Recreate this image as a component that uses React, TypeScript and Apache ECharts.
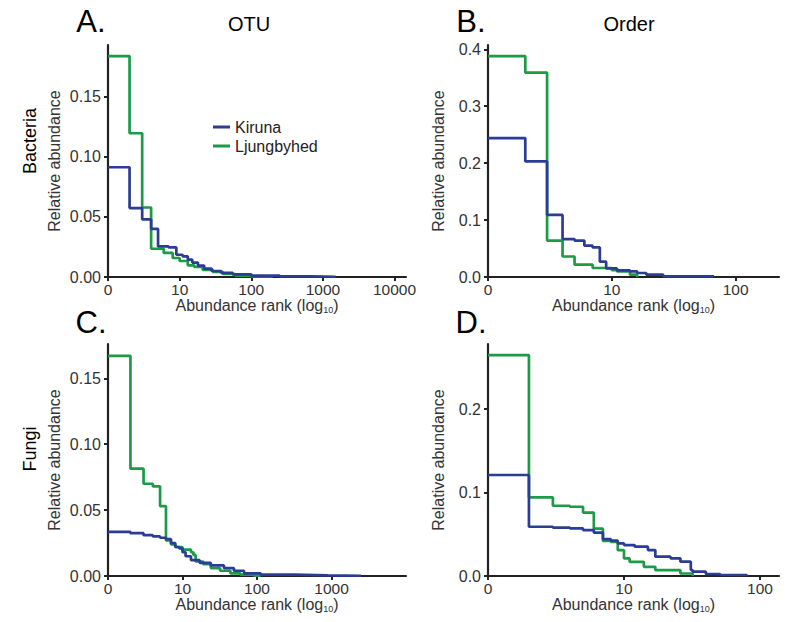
import React, { useEffect, useRef } from 'react';
import * as echarts from 'echarts';

const FONT = '"Liberation Sans", Arial, Helvetica, sans-serif';
const BLUE = '#2b3c94';
const GREEN = '#1c9a47';
const AXIS = '#222222';
const LABEL = '#333333';

const seriesNames = ['Kiruna', 'Ljungbyhed'];

// A. OTU, Bacteria  (rank: value holds from this rank until next listed rank)
const otuBacKirunaRank = [1, 2, 3, 4, 5, 7, 9, 11, 13, 15, 18, 22, 28, 38, 55, 100, 250, 700, 1500];
const otuBacKirunaValue = [0.0913, 0.0573, 0.048, 0.040, 0.0254, 0.0246, 0.0185, 0.0172, 0.0145, 0.012, 0.0095, 0.007, 0.005, 0.0035, 0.0022, 0.0012, 0.0006, 0.0002, 0];
const otuBacLjungRank = [1, 2, 3, 4, 6, 8, 10, 13, 16, 21, 29, 40, 60, 100, 200];
const otuBacLjungValue = [0.1838, 0.1196, 0.0578, 0.0235, 0.020, 0.0158, 0.0133, 0.0097, 0.0083, 0.006, 0.0043, 0.0025, 0.0012, 0.0005, 0];

// B. Order, Bacteria
const ordBacKirunaRank = [1, 2, 3, 4, 5, 6, 7, 8, 9, 11, 14, 16, 19, 26, 67];
const ordBacKirunaValue = [0.244, 0.203, 0.109, 0.0667, 0.064, 0.055, 0.052, 0.027, 0.015, 0.0117, 0.0099, 0.007, 0.004, 0.0012, 0];
const ordBacLjungRank = [1, 2, 3, 4, 5, 7, 10, 11, 14, 16];
const ordBacLjungValue = [0.388, 0.359, 0.064, 0.036, 0.0216, 0.0158, 0.012, 0.0099, 0.004, 0];

// C. OTU, Fungi
const otuFunKirunaRank = [1, 2, 3, 4, 5, 6, 7, 8, 9, 10, 11, 13, 17, 24, 36, 49, 67, 112, 316, 890, 2500];
const otuFunKirunaValue = [0.0335, 0.0325, 0.031, 0.030, 0.029, 0.028, 0.025, 0.022, 0.021, 0.018, 0.015, 0.012, 0.010, 0.008, 0.006, 0.004, 0.002, 0.001, 0.0005, 0.0002, 0];
const otuFunLjungRank = [1, 2, 3, 4, 5, 6, 7, 8, 10, 13, 14, 15, 19, 24, 32, 44, 60, 91, 112];
const otuFunLjungValue = [0.167, 0.0814, 0.070, 0.068, 0.053, 0.027, 0.024, 0.022, 0.020, 0.018, 0.016, 0.011, 0.009, 0.006, 0.004, 0.002, 0.001, 0.0003, 0];

// D. Order, Fungi
const ordFunKirunaRank = [1, 2, 3, 4, 5, 6, 7, 8, 9, 10, 12, 15, 17, 22, 26, 31, 32, 40, 51, 80];
const ordFunKirunaValue = [0.121, 0.059, 0.058, 0.057, 0.055, 0.052, 0.0443, 0.0423, 0.0391, 0.0371, 0.0351, 0.0311, 0.0232, 0.0212, 0.0172, 0.0072, 0.0052, 0.0024, 0.0012, 0];
const ordFunLjungRank = [1, 2, 3, 4, 5, 6, 7, 8, 9, 10, 11, 14, 17, 26, 32];
const ordFunLjungValue = [0.2647, 0.0942, 0.0842, 0.083, 0.076, 0.0567, 0.042, 0.041, 0.031, 0.021, 0.017, 0.011, 0.007, 0.003, 0];

// Axis ticks
const otuRankTicks = [1, 10, 100, 1000, 10000];
const otuFunRankTicks = [1, 10, 100, 1000];
const ordRankTicks = [1, 10, 100];
const yTicksOtuBac = [0, 0.05, 0.1, 0.15];
const yTicksOrdBac = [0, 0.1, 0.2, 0.3, 0.4];
const yTicksOtuFun = [0, 0.05, 0.1, 0.15];
const yTicksOrdFun = [0, 0.1, 0.2];

const panelLetters = ['A.', 'B.', 'C.', 'D.'];
const columnTitles = ['OTU', 'Order'];
const rowTitles = ['Bacteria', 'Fungi'];

const toData = (ranks: number[], values: number[]) =>
  ranks.map((r, i) => [Math.log10(r), values[i]]);

const panels = [
  { grid: { left: 108, top: 45, width: 298, height: 232 }, xMax: 4.16, yMax: 0.193, xTicks: otuRankTicks, yTicks: yTicksOtuBac, yDec: 2, nameGap: 46,
    kir: toData(otuBacKirunaRank, otuBacKirunaValue), lju: toData(otuBacLjungRank, otuBacLjungValue) },
  { grid: { left: 488, top: 45, width: 291, height: 232 }, xMax: 2.35, yMax: 0.4075, xTicks: ordRankTicks, yTicks: yTicksOrdBac, yDec: 1, nameGap: 42,
    kir: toData(ordBacKirunaRank, ordBacKirunaValue), lju: toData(ordBacLjungRank, ordBacLjungValue) },
  { grid: { left: 108, top: 344, width: 298, height: 232 }, xMax: 4.0, yMax: 0.176, xTicks: otuFunRankTicks, yTicks: yTicksOtuFun, yDec: 2, nameGap: 46,
    kir: toData(otuFunKirunaRank, otuFunKirunaValue), lju: toData(otuFunLjungRank, otuFunLjungValue) },
  { grid: { left: 488, top: 344, width: 291, height: 232 }, xMax: 2.14, yMax: 0.278, xTicks: ordRankTicks, yTicks: yTicksOrdFun, yDec: 1, nameGap: 42,
    kir: toData(ordFunKirunaRank, ordFunKirunaValue), lju: toData(ordFunLjungRank, ordFunLjungValue) },
];

export default function App() {
  const ref = useRef<HTMLDivElement>(null);
  useEffect(() => {
    if (!ref.current) return;
    const chart = echarts.init(ref.current, null, { renderer: 'svg' });
    const grids = panels.map((p) => ({ ...p.grid, containLabel: false, outerBoundsMode: 'none' }));
    const xAxes = panels.map((p, i) => ({
      type: 'value',
      gridIndex: i,
      min: 0,
      max: p.xMax,
      name: '{a|Abundance rank (log}{s|10}{a|)}',
      nameLocation: 'middle',
      nameGap: 17,
      nameTextStyle: {
        rich: {
          a: { fontSize: 16, color: LABEL, fontFamily: FONT, lineHeight: 18 },
          s: { fontSize: 9, color: LABEL, fontFamily: FONT, lineHeight: 7, verticalAlign: 'bottom' },
        },
      },
      axisLine: { show: true, onZero: false, lineStyle: { color: AXIS, width: 2.2 } },
      axisTick: { show: true, length: 4, lineStyle: { color: AXIS, width: 2 }, customValues: p.xTicks.map((r) => Math.log10(r)) },
      axisLabel: {
        show: true,
        margin: 4,
        fontSize: 15.5,
        color: LABEL,
        fontFamily: FONT,
        customValues: p.xTicks.map((r) => Math.log10(r)),
        formatter: (v: number) => {
          const r = Math.round(Math.pow(10, v));
          return r === 1 ? '0' : String(r);
        },
      },
      splitLine: { show: false },
    }));
    const yAxes = panels.map((p, i) => ({
      type: 'value',
      gridIndex: i,
      min: 0,
      max: p.yMax,
      name: 'Relative abundance',
      nameLocation: 'middle',
      nameGap: p.nameGap,
      nameTextStyle: { fontSize: 16, color: LABEL, fontFamily: FONT },
      axisLine: { show: true, lineStyle: { color: AXIS, width: 2.2 } },
      axisTick: { show: true, length: 4, lineStyle: { color: AXIS, width: 2 }, customValues: p.yTicks },
      axisLabel: {
        show: true,
        margin: 7,
        fontSize: 16,
        color: LABEL,
        fontFamily: FONT,
        customValues: p.yTicks,
        formatter: (v: number) => v.toFixed(p.yDec),
      },
      splitLine: { show: false },
    }));
    const series: any[] = [];
    panels.forEach((p, i) => {
      series.push({
        name: seriesNames[1], type: 'line', step: 'end', xAxisIndex: i, yAxisIndex: i,
        data: p.lju, showSymbol: false, symbol: 'none', color: GREEN,
        lineStyle: { color: GREEN, width: 2.7 },
      });
      series.push({
        name: seriesNames[0], type: 'line', step: 'end', xAxisIndex: i, yAxisIndex: i,
        data: p.kir, showSymbol: false, symbol: 'none', color: BLUE,
        lineStyle: { color: BLUE, width: 2.7 },
      });
    });
    const letterPos = [[91, 21], [471, 21], [91, 322], [471, 322]];
    const graphics: any[] = [];
    panelLetters.forEach((t, i) => {
      graphics.push({ type: 'text', x: letterPos[i][0], y: letterPos[i][1],
        style: { text: t, fontSize: 31, fontFamily: FONT, fill: '#000', textAlign: 'center', textVerticalAlign: 'middle' } });
    });
    const colPos = [249, 629];
    columnTitles.forEach((t, i) => {
      graphics.push({ type: 'text', x: colPos[i], y: 24,
        style: { text: t, fontSize: 20, fontFamily: FONT, fill: '#000', textAlign: 'center', textVerticalAlign: 'middle' } });
    });
    const rowPos = [141, 449];
    rowTitles.forEach((t, i) => {
      graphics.push({ type: 'text', x: 30, y: rowPos[i], rotation: Math.PI / 2,
        style: { text: t, fontSize: 18, fontFamily: FONT, fill: '#000', textAlign: 'center', textVerticalAlign: 'middle' } });
    });
    chart.setOption({
      animation: false,
      backgroundColor: '#fff',
      grid: grids,
      xAxis: xAxes,
      yAxis: yAxes,
      legend: {
        data: seriesNames,
        orient: 'vertical',
        left: 208,
        top: 114,
        icon: 'rect',
        itemWidth: 17,
        itemHeight: 3,
        itemGap: 3,
        textStyle: { fontSize: 16, color: '#222', fontFamily: FONT },
      },
      series,
      graphic: graphics,
    });
    return () => chart.dispose();
  }, []);
  return <div ref={ref} style={{ position: 'fixed', left: 0, top: 0, width: 787, height: 622 }} />;
}
